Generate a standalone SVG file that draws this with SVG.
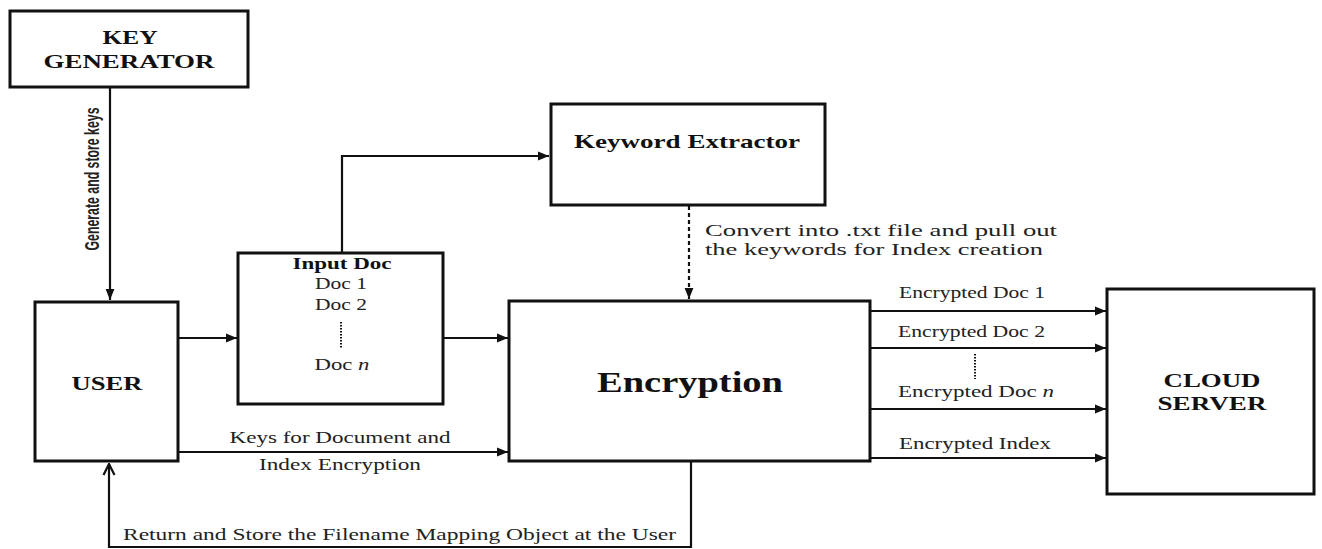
<svg xmlns="http://www.w3.org/2000/svg" width="1322" height="549" viewBox="0 0 1322 549">
<style>
.box{fill:#fff;stroke:#111;stroke-width:3}
.ln{fill:none;stroke:#111;stroke-width:2.2}
.dash{fill:none;stroke:#111;stroke-width:2.2;stroke-dasharray:4 3}
.dots{fill:none;stroke:#111;stroke-width:2;stroke-dasharray:1.5 1.5}
.t{font-family:"Liberation Serif","Times New Roman",serif;font-size:17px;fill:#222}
.b{font-family:"Liberation Serif","Times New Roman",serif;font-weight:bold;fill:#111}
.c{text-anchor:middle}
</style>
<defs>
<marker id="ah" viewBox="0 0 10 10" refX="10" refY="5" markerWidth="5" markerHeight="5" markerUnits="strokeWidth" orient="auto">
<path d="M0,1 L10,5 L0,9 Z" fill="#111"/>
</marker>
<marker id="open" viewBox="0 0 12 12" refX="11" refY="6" markerWidth="6" markerHeight="6" markerUnits="strokeWidth" orient="auto">
<path d="M1,1 L11,6 L1,11" fill="none" stroke="#111" stroke-width="2"/>
</marker>
</defs>
<rect width="1322" height="549" fill="#fff"/>

<g id="connectors">
<line class="ln" x1="110" y1="88" x2="110" y2="300" marker-end="url(#ah)"/>
<line class="ln" x1="178" y1="338" x2="237" y2="338" marker-end="url(#ah)"/>
<polyline class="ln" points="342,253 342,156 549,156" marker-end="url(#ah)"/>
<line class="ln" x1="443" y1="338" x2="508" y2="338" marker-end="url(#ah)"/>
<line class="dash" x1="689" y1="206" x2="689" y2="299" marker-end="url(#ah)"/>
<line class="ln" x1="178" y1="452" x2="508" y2="452" marker-end="url(#ah)"/>
<polyline class="ln" points="691,461 691,547 109,547 109,464" marker-end="url(#open)"/>
<line class="ln" x1="871" y1="311" x2="1106" y2="311" marker-end="url(#ah)"/>
<line class="ln" x1="871" y1="348" x2="1106" y2="348" marker-end="url(#ah)"/>
<line class="ln" x1="871" y1="409" x2="1106" y2="409" marker-end="url(#ah)"/>
<line class="ln" x1="871" y1="458" x2="1106" y2="458" marker-end="url(#ah)"/>
<line class="dots" x1="975" y1="354" x2="975" y2="379"/>
<text x="99" y="179" text-anchor="middle" textLength="143" lengthAdjust="spacingAndGlyphs" transform="rotate(-90 99 179)" style="font-family:'Liberation Sans Narrow','Liberation Sans',sans-serif;font-weight:bold;font-size:21px;fill:#222">Generate and store keys</text>
<text class="t" x="705" y="236" textLength="352" lengthAdjust="spacingAndGlyphs">Convert into .txt file and pull out</text>
<text class="t" x="705" y="255" textLength="338" lengthAdjust="spacingAndGlyphs">the keywords for Index creation</text>
<text class="t c" x="340" y="443" textLength="221" lengthAdjust="spacingAndGlyphs">Keys for Document and</text>
<text class="t c" x="340" y="470" textLength="162" lengthAdjust="spacingAndGlyphs">Index Encryption</text>
<text class="t" x="123" y="540" textLength="553" lengthAdjust="spacingAndGlyphs">Return and Store the Filename Mapping Object at the User</text>
<text class="t" x="899" y="298" textLength="146" lengthAdjust="spacingAndGlyphs">Encrypted Doc 1</text>
<text class="t" x="898" y="337" textLength="147" lengthAdjust="spacingAndGlyphs">Encrypted Doc 2</text>
<text class="t" x="898" y="397" textLength="156" lengthAdjust="spacingAndGlyphs">Encrypted Doc <tspan font-style="italic">n</tspan></text>
<text class="t" x="899" y="449" textLength="152" lengthAdjust="spacingAndGlyphs">Encrypted Index</text>
</g>

<g id="key-generator">
<rect class="box" x="10" y="11" width="238" height="76"/>
<text class="b c" x="130" y="44" font-size="19" textLength="55" lengthAdjust="spacingAndGlyphs">KEY</text>
<text class="b c" x="129" y="68" font-size="19" textLength="171" lengthAdjust="spacingAndGlyphs">GENERATOR</text>
</g>

<g id="user">
<rect class="box" x="35" y="302" width="143" height="159"/>
<text class="b c" x="107" y="390" font-size="19" textLength="71" lengthAdjust="spacingAndGlyphs">USER</text>
</g>

<g id="input-doc">
<rect class="box" x="238" y="253" width="205" height="151"/>
<text class="b c" x="342" y="269" font-size="17" textLength="99" lengthAdjust="spacingAndGlyphs">Input Doc</text>
<text class="t c" x="341" y="289" textLength="52" lengthAdjust="spacingAndGlyphs">Doc 1</text>
<text class="t c" x="341" y="310" textLength="52" lengthAdjust="spacingAndGlyphs">Doc 2</text>
<line class="dots" x1="341" y1="322" x2="341" y2="348"/>
<text class="t c" x="342" y="370" textLength="55" lengthAdjust="spacingAndGlyphs">Doc <tspan font-style="italic">n</tspan></text>
</g>

<g id="keyword-extractor">
<rect class="box" x="551" y="104" width="274" height="101"/>
<text class="b" x="574" y="148" font-size="19" textLength="226" lengthAdjust="spacingAndGlyphs">Keyword Extractor</text>
</g>

<g id="encryption">
<rect class="box" x="509" y="301" width="361" height="160"/>
<text class="b c" x="690" y="392" font-size="30" textLength="186" lengthAdjust="spacingAndGlyphs">Encryption</text>
</g>

<g id="cloud-server">
<rect class="box" x="1107" y="289" width="207" height="205"/>
<text class="b c" x="1212" y="387" font-size="19" textLength="97" lengthAdjust="spacingAndGlyphs">CLOUD</text>
<text class="b c" x="1212" y="410" font-size="19" textLength="109" lengthAdjust="spacingAndGlyphs">SERVER</text>
</g>
</svg>
